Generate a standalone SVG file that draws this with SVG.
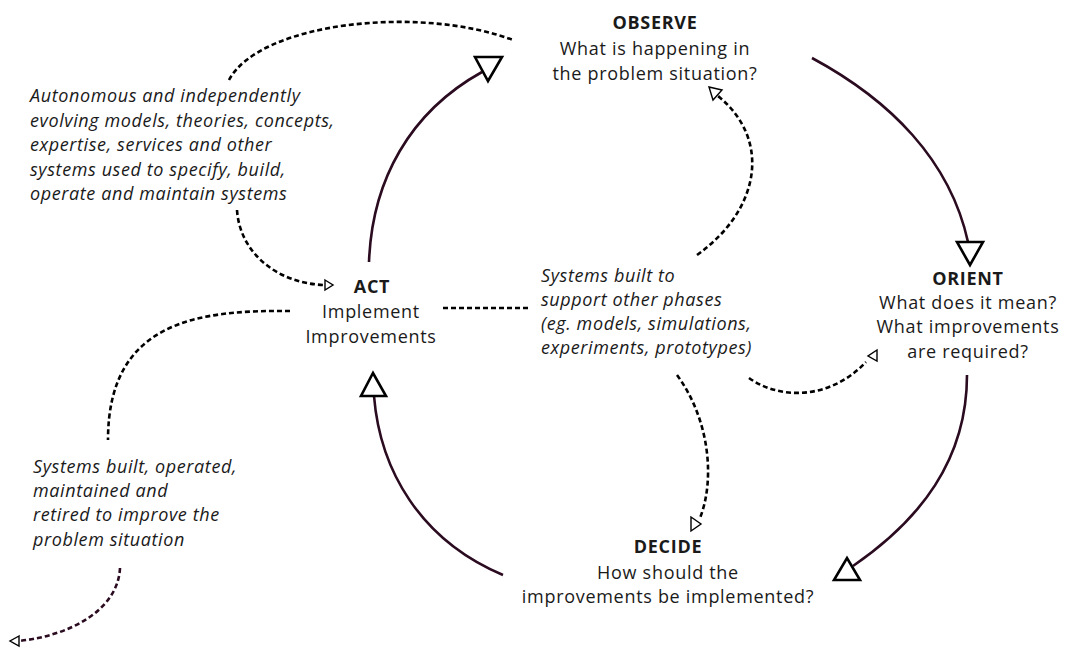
<svg xmlns="http://www.w3.org/2000/svg" width="1067" height="652" viewBox="0 0 1067 652">
  <style>
    .bg { fill: #ffffff; }
    .phase { font-family: "Open Sans", "DejaVu Sans", sans-serif; font-size: 18px; letter-spacing: 0.7px; fill: #1a1a1a; text-anchor: middle; }
    .phase .title { font-weight: bold; }
    .note { font-family: "Open Sans", "DejaVu Sans", sans-serif; font-size: 18px; letter-spacing: 0.6px; font-style: italic; fill: #1a1a1a; }
    .flow { fill: none; stroke: #2b0b20; stroke-width: 2.6; }
    .link { fill: none; stroke: #000000; stroke-width: 2.6; stroke-dasharray: 5 3; }
    .link.purple { stroke: #2b0b20; }
    .head { fill: #ffffff; stroke: #000000; stroke-width: 2.6; stroke-linejoin: miter; }
    .tip { fill: #ffffff; stroke: #000000; stroke-width: 1.4; }
  </style>
  <rect class="bg" x="0" y="0" width="1067" height="652"/>

  <!-- OODA phases -->
  <g id="observe" class="phase">
    <text x="655" y="29" class="title">OBSERVE</text>
    <text x="655" y="55">What is happening in</text>
    <text x="655" y="80">the problem situation?</text>
  </g>
  <g id="orient" class="phase">
    <text x="968" y="285" class="title">ORIENT</text>
    <text x="968" y="309">What does it mean?</text>
    <text x="968" y="333">What improvements</text>
    <text x="968" y="358">are required?</text>
  </g>
  <g id="decide" class="phase">
    <text x="668" y="553" class="title">DECIDE</text>
    <text x="668" y="579">How should the</text>
    <text x="668" y="603">improvements be implemented?</text>
  </g>
  <g id="act" class="phase">
    <text x="372" y="293" class="title">ACT</text>
    <text x="371" y="318">Implement</text>
    <text x="371" y="343">Improvements</text>
  </g>

  <!-- supporting systems -->
  <g id="note-autonomous" class="note">
    <text x="30" y="102">Autonomous and independently</text>
    <text x="30" y="126.5">evolving models, theories, concepts,</text>
    <text x="30" y="151">expertise, services and other</text>
    <text x="30" y="175.5">systems used to specify, build,</text>
    <text x="30" y="200">operate and maintain systems</text>
  </g>
  <g id="note-support" class="note">
    <text x="541" y="282">Systems built to</text>
    <text x="541" y="306">support other phases</text>
    <text x="541" y="330">(eg. models, simulations,</text>
    <text x="541" y="354">experiments, prototypes)</text>
  </g>
  <g id="note-operated" class="note">
    <text x="33" y="473">Systems built, operated,</text>
    <text x="33" y="497">maintained and</text>
    <text x="33" y="521">retired to improve the</text>
    <text x="33" y="546">problem situation</text>
  </g>

  <g id="connectors">
    <!-- main loop -->
    <path class="flow" d="M369,262 C372,180 410,112 482,72"/>
    <polygon class="head" points="475,57 502,57 488,81"/>
    <path class="flow" d="M812,58 C890,100 950,160 968,242"/>
    <polygon class="head" points="957,242 983,242 970,265"/>
    <path class="flow" d="M967,375 C967,460 920,520 853,566"/>
    <polygon class="head" points="834,580 860,580 847,558"/>
    <path class="flow" d="M503,575 C420,540 380,470 374,396"/>
    <polygon class="head" points="361,396 386,396 373,373"/>

    <!-- supporting links -->
    <path class="link" d="M229,80 C260,22 420,5 513,40"/>
    <path class="link" d="M237,210 C240,255 280,284 325,285"/>
    <polygon class="tip" points="325,280 333,285 325,290"/>
    <path class="link" d="M290,311 C200,310 108,320 108,440"/>
    <path class="link purple" d="M120,568 C118,610 70,636 18,641"/>
    <polygon class="tip" points="19,636 10,641 19,646"/>
    <path class="link" d="M443,308 L528,308"/>
    <path class="link" d="M697,255 C760,210 772,140 718,96"/>
    <polygon class="tip" points="709,87 722,90 713,100"/>
    <path class="link" d="M749,378 C780,400 830,400 866,362"/>
    <polygon class="tip" points="877,350 877,361 868,356"/>
    <path class="link" d="M677,375 C710,420 715,480 700,518"/>
    <polygon class="tip" points="691,517 701,524 691,531"/>
  </g>
</svg>
